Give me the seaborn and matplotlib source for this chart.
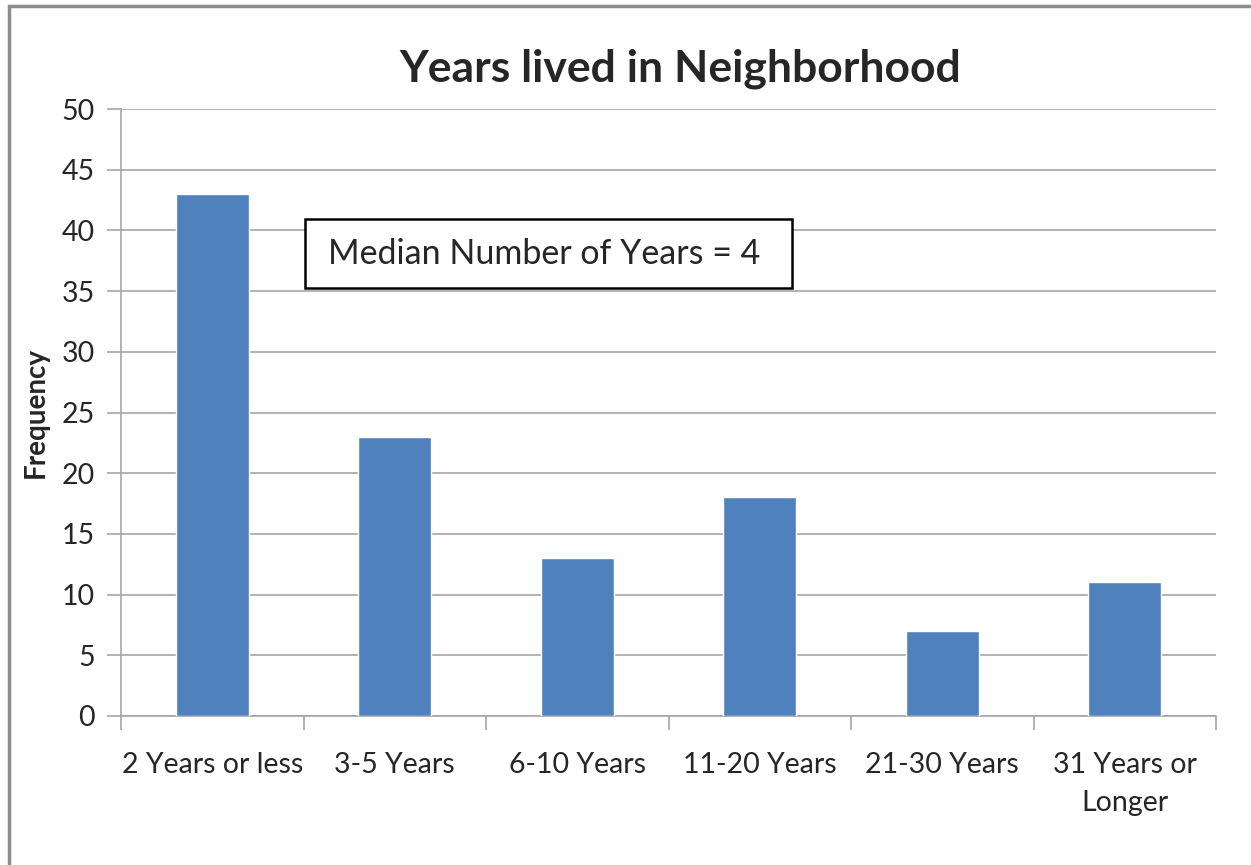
import numpy as np
import pandas as pd
import matplotlib
matplotlib.use("Agg")
import matplotlib.pyplot as plt
from matplotlib.patches import Rectangle
import seaborn as sns

# ── Datos ───────────────────────────────────────────────
categorias = ["2 Years or less", "3-5 Years", "6-10 Years",
              "11-20 Years", "21-30 Years", "31 Years or\nLonger"]
frecuencia = [43, 23, 13, 18, 7, 11]
y_ticks = list(range(0, 51, 5))

df = pd.DataFrame({"categoria": categorias, "frecuencia": frecuencia})

# ── Estilo ──────────────────────────────────────────────
sns.set_theme(style="white")
plt.rcParams["font.family"] = ["Lato", "DejaVu Sans"]

GRIS = "#A6A6A6"

fig = plt.figure(figsize=(12.51, 8.65), dpi=100)
ax = fig.add_axes([121 / 1251, 1 - 716 / 865, (1216 - 121) / 1251, (716 - 109) / 865])

sns.barplot(data=df, x="categoria", y="frecuencia", color="#4F81BD",
            width=0.4, saturation=1, ax=ax, zorder=3)

ax.set_xlim(-0.5, len(categorias) - 0.5)
ax.set_ylim(0, 50)
ax.set_yticks(y_ticks)
ax.yaxis.grid(True, color=GRIS, linewidth=1.2, zorder=0)
ax.set_axisbelow(True)

for lado in ["top", "right"]:
    ax.spines[lado].set_visible(False)
for lado in ["left", "bottom"]:
    ax.spines[lado].set_color(GRIS)
    ax.spines[lado].set_linewidth(1.2)

ax.tick_params(axis="y", which="major", length=10, width=1.2, color=GRIS,
               labelsize=20.5, pad=9, left=True)
ax.set_xticks(np.arange(-0.5, len(categorias)), minor=True)
ax.tick_params(axis="x", which="minor", length=10, width=1.2, color=GRIS,
               bottom=True)
ax.tick_params(axis="x", which="major", length=0, labelsize=20.5, pad=26)
for t in ax.get_xticklabels():
    t.set_linespacing(1.55)

ax.set_xlabel("")
ax.set_ylabel("Frequency", fontsize=20, fontweight="bold", labelpad=9)
ax.set_title("Years lived in Neighborhood", fontsize=32, fontweight="bold",
             pad=20, x=(680 - 121) / 1095)

# ── Cuadro de la mediana ────────────────────────────────
x0, x1 = (305 - 121) / 1095, (792 - 121) / 1095
y0, y1 = (716 - 288) / 607, (716 - 219) / 607
ax.add_patch(Rectangle((x0, y0), x1 - x0, y1 - y0, transform=ax.transAxes,
                       facecolor="white", edgecolor="black", linewidth=1.8,
                       zorder=5))
ax.text((328 - 121) / 1095, (y0 + y1) / 2, "Median Number of Years = 4",
        transform=ax.transAxes, fontsize=24.5, ha="left", va="center",
        zorder=6)

# ── Marco del gráfico ───────────────────────────────────
fig.patches.append(Rectangle((8.5 / 1251, -0.1), 1.2, 1.1 - 6.5 / 865,
                             transform=fig.transFigure, fill=False,
                             edgecolor="#8C8C8C", linewidth=2.5))

fig.savefig("out.png", dpi=100)
